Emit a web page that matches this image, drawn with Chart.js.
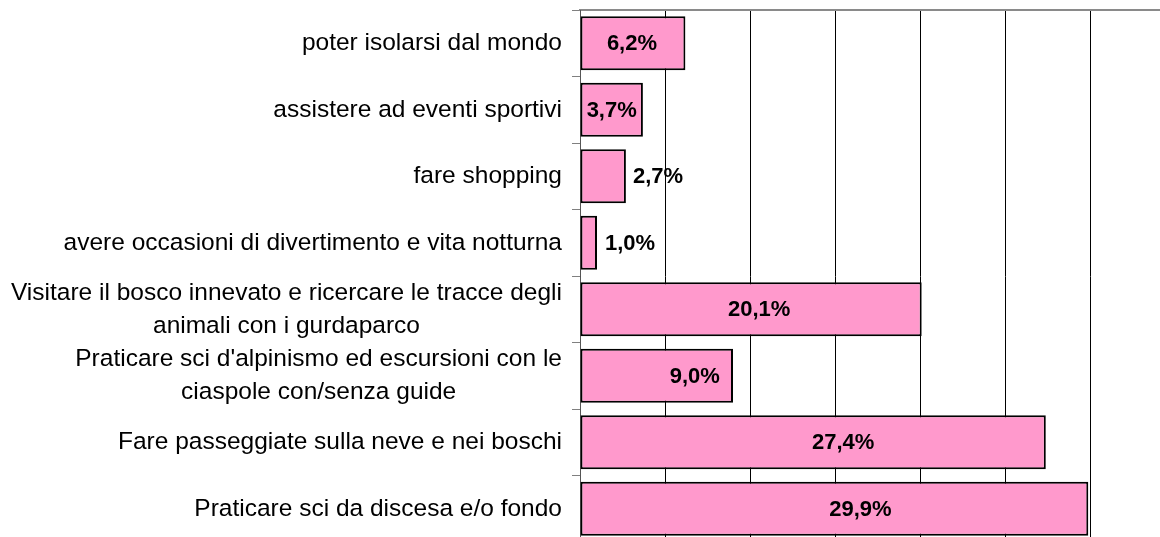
<!DOCTYPE html>
<html>
<head>
<meta charset="utf-8">
<script src="https://cdn.jsdelivr.net/npm/chart.js@4/dist/chart.umd.min.js"></script>
<style>
html, body { margin: 0; padding: 0; background: #fff; overflow: hidden; width: 1160px; height: 537px; }
canvas { display: block; }
</style>
</head>
<body>
<canvas id="c" width="1180" height="545"></canvas>
<script>
const categories = [
  ["poter isolarsi dal mondo"],
  ["assistere ad eventi sportivi"],
  ["fare shopping"],
  ["avere occasioni di divertimento e vita notturna"],
  ["Visitare il bosco innevato e ricercare le tracce degli", "animali con i gurdaparco"],
  ["Praticare sci d'alpinismo ed escursioni con le", "ciaspole con/senza guide"],
  ["Fare passeggiate sulla neve e nei boschi"],
  ["Praticare sci da discesa e/o fondo"]
];
const values = [6.2, 3.7, 2.7, 1.0, 20.1, 9.0, 27.4, 29.9];
const axisMax = 35;
const tickStep = 5;

const LABEL_FONT = '24.5px "Liberation Sans", Arial, sans-serif';
const VALUE_FONT = 'bold 22px "Liberation Sans", Arial, sans-serif';

const catLabelPlugin = {
  id: 'catLabels',
  afterDraw(chart) {
    const ctx = chart.ctx;
    const ys = chart.scales.y;
    const rightX = ys.right - 18;
    const lineH = 33;
    ctx.save();
    ctx.font = LABEL_FONT;
    ctx.fillStyle = '#000';
    ctx.textBaseline = 'middle';
    ctx.textAlign = 'center';
    categories.forEach((lines, i) => {
      const yc = ys.getPixelForTick(i);
      const w = Math.max(...lines.map(l => ctx.measureText(l).width));
      const cx = rightX - w / 2;
      const y0 = yc - (lines.length - 1) * lineH / 2;
      lines.forEach((l, k) => ctx.fillText(l, cx, y0 + k * lineH));
    });
    ctx.restore();
  }
};

const valueLabelPlugin = {
  id: 'valueLabels',
  afterDatasetsDraw(chart, args, opts) {
    const ctx = chart.ctx;
    const meta = chart.getDatasetMeta(0);
    const shifts = opts.shifts || [];
    ctx.save();
    ctx.font = VALUE_FONT;
    ctx.fillStyle = '#000';
    ctx.textBaseline = 'middle';
    meta.data.forEach((bar, i) => {
      const txt = values[i].toFixed(1).replace('.', ',') + '%';
      const tw = ctx.measureText(txt).width;
      const bw = bar.x - bar.base;
      const s = shifts[i] || 0;
      if (tw + 4 < bw) {
        ctx.textAlign = 'center';
        ctx.fillText(txt, (bar.x + bar.base) / 2 + s, bar.y + 1);
      } else {
        ctx.textAlign = 'left';
        ctx.fillText(txt, bar.x + 7 + s, bar.y + 1);
      }
    });
    ctx.restore();
  }
};

new Chart(document.getElementById('c'), {
  type: 'bar',
  data: {
    labels: categories,
    datasets: [{
      data: values,
      backgroundColor: '#FF99CC',
      borderColor: '#000',
      borderWidth: 2,
      borderSkipped: false,
      categoryPercentage: 1.0,
      barPercentage: 0.81
    }]
  },
  options: {
    indexAxis: 'y',
    responsive: false,
    animation: false,
    devicePixelRatio: 1,
    layout: { padding: { top: 10, right: 5, bottom: 3, left: 0 } },
    plugins: {
      legend: { display: false },
      tooltip: { enabled: false },
      title: { display: false },
      valueLabels: { shifts: [-1, 0, 0, 1, 8, 38, 30, 26] }
    },
    scales: {
      x: {
        position: 'top',
        min: 0,
        max: axisMax,
        ticks: { display: false, stepSize: tickStep },
        grid: { color: '#000', lineWidth: 1, drawTicks: false },
        border: { display: true, color: '#8a8a8a', width: 2 }
      },
      y: {
        ticks: { display: false },
        grid: { offset: true, drawOnChartArea: false, drawTicks: true, tickLength: 8, color: '#808080', lineWidth: 1 },
        border: { display: true, color: '#555', width: 1 },
        afterFit(scale) { scale.width = 580; }
      }
    }
  },
  plugins: [catLabelPlugin, valueLabelPlugin]
});
</script>
</body>
</html>
